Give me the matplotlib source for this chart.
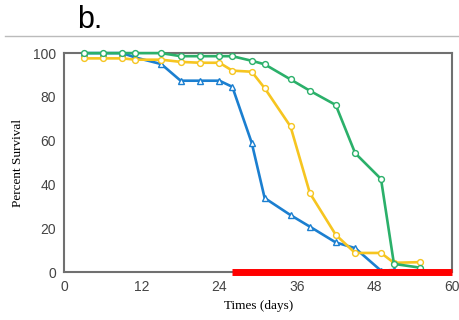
import matplotlib
matplotlib.use("Agg")
import matplotlib.pyplot as plt
from matplotlib.lines import Line2D

# --- DATA ---
green_days = [3, 6, 9, 11, 15, 18, 21, 24, 26, 29, 31, 35, 38, 42, 45, 49, 51, 55]
green_surv = [100, 100, 100, 100, 100, 98.6, 98.6, 98.6, 98.6, 96.5, 94.9, 88, 82.8, 76.3, 54.3, 42.5, 3.7, 2]

yellow_days = [3, 6, 9, 11, 15, 18, 21, 24, 26, 29, 31, 35, 38, 42, 45, 49, 51, 55]
yellow_surv = [97.6, 97.6, 97.6, 97, 97, 96, 95.6, 95.6, 92, 91.5, 84, 66.5, 36, 17, 8.7, 8.7, 4.2, 4.5]

blue_days = [3, 6, 9, 11, 15, 18, 21, 24, 26, 29, 31, 35, 38, 42, 45, 49, 51]
blue_surv = [100, 100, 100, 98, 95, 87.4, 87.4, 87.4, 84.6, 59, 33.8, 26, 20.7, 13.5, 10.9, 0.6, 0.9]

red_span = [26, 60]
x_ticks = [0, 12, 24, 36, 48, 60]
y_ticks = [0, 20, 40, 60, 80, 100]

# --- PLOT ---
fig = plt.figure(figsize=(4.59, 3.2), dpi=100)
ax = fig.add_axes([0.14, 0.15, 0.845, 0.684])

style = dict(lw=1.9, ms=4.2, mew=1.0, mfc="white", clip_on=False, zorder=3)
ax.plot(blue_days, blue_surv, color="#1b7fd0", marker="^", **style)
ax.plot(yellow_days, yellow_surv, color="#f6c520", marker="o", **style)
ax.plot(green_days, green_surv, color="#2bb06a", marker="o", **style)

ax.plot(red_span, [0, 0], color="#ff0000", lw=5, solid_capstyle="butt", clip_on=False, zorder=4)

ax.set_xlim(0, 60)
ax.set_ylim(0, 100)
ax.set_xticks(x_ticks)
ax.set_yticks(y_ticks)
ax.tick_params(labelsize=10, length=0, pad=6, labelcolor="#444444")
for lab in ax.get_xticklabels() + ax.get_yticklabels():
    lab.set_family("Liberation Sans")
for s in ax.spines.values():
    s.set_color("#707070")
    s.set_linewidth(1.5)

ax.set_xlabel("Times (days)", family="Liberation Serif", fontsize=9.5, labelpad=4)
ax.set_ylabel("Percent Survival", family="Liberation Serif", fontsize=9.5, labelpad=6)

# panel label with rule under it
fig.text(0.167, 0.89, "b.", fontsize=22, family="Liberation Sans", color="black", va="bottom")
fig.add_artist(Line2D([0.01, 1.0], [0.888, 0.888], color="#bbbbbb", lw=1))

plt.savefig("out.png", dpi=100)
